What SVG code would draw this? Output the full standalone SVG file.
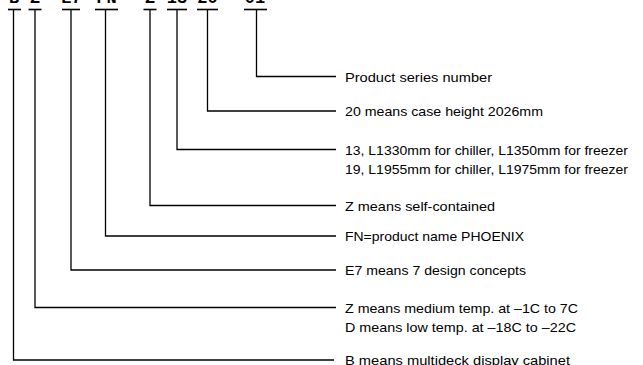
<svg xmlns="http://www.w3.org/2000/svg" width="643" height="365" viewBox="0 0 643 365">
<style>
.ln{fill:none;stroke:#000;stroke-width:1.3}
.tk{stroke:#000;stroke-width:1.6}
.lbl{font-family:"Liberation Sans",Arial,sans-serif;font-size:13.5px;fill:#000}
.code{font-family:"Liberation Mono","Courier New",monospace;font-size:17px;font-weight:bold;fill:#000;text-anchor:middle}
</style>
<rect width="643" height="365" fill="#fff"/>
<g id="code">
<text class="code" x="14" y="2.5">B</text>
<text class="code" x="35" y="2.5">Z</text>
<text class="code" x="71.5" y="2.5">E7</text>
<text class="code" x="106.5" y="2.5">FN</text>
<text class="code" x="150" y="2.5">Z</text>
<text class="code" x="177" y="2.5">13</text>
<text class="code" x="207.5" y="2.5">20</text>
<text class="code" x="255" y="2.5">01</text>
</g>
<g id="connectors">
<line class="tk" x1="8" y1="9.5" x2="21" y2="9.5"/>
<line class="tk" x1="28.5" y1="9.5" x2="41.5" y2="9.5"/>
<line class="tk" x1="62" y1="9.5" x2="80" y2="9.5"/>
<line class="tk" x1="95" y1="9.5" x2="118" y2="9.5"/>
<line class="tk" x1="143.5" y1="9.5" x2="156.5" y2="9.5"/>
<line class="tk" x1="167" y1="9.5" x2="187" y2="9.5"/>
<line class="tk" x1="197" y1="9.5" x2="218" y2="9.5"/>
<line class="tk" x1="244" y1="9.5" x2="267" y2="9.5"/>
<polyline class="ln" points="256.5,9.5 256.5,76.5 336,76.5"/>
<polyline class="ln" points="207.5,9.5 207.5,111 336,111"/>
<polyline class="ln" points="177,9.5 177,149.5 336,149.5"/>
<polyline class="ln" points="150,9.5 150,205.5 336,205.5"/>
<polyline class="ln" points="105.5,9.5 105.5,236 336,236"/>
<polyline class="ln" points="71,9.5 71,270 336,270"/>
<polyline class="ln" points="35,9.5 35,307.5 336,307.5"/>
<polyline class="ln" points="13.5,9.5 13.5,360 334,360"/>
</g>
<g id="n-series"><text class="lbl" x="345" y="82" textLength="147" lengthAdjust="spacingAndGlyphs">Product series number</text></g>
<g id="n-height"><text class="lbl" x="345" y="116" textLength="198" lengthAdjust="spacingAndGlyphs">20 means case height 2026mm</text></g>
<g id="n-length"><text class="lbl" x="345" y="154.5" textLength="283" lengthAdjust="spacingAndGlyphs">13, L1330mm for chiller, L1350mm for freezer</text><text class="lbl" x="345" y="174" textLength="283" lengthAdjust="spacingAndGlyphs">19, L1955mm for chiller, L1975mm for freezer</text></g>
<g id="n-self"><text class="lbl" x="345" y="210.5" textLength="150" lengthAdjust="spacingAndGlyphs">Z means self-contained</text></g>
<g id="n-name"><text class="lbl" x="345" y="241" textLength="179" lengthAdjust="spacingAndGlyphs">FN=product name PHOENIX</text></g>
<g id="n-design"><text class="lbl" x="345" y="275" textLength="181" lengthAdjust="spacingAndGlyphs">E7 means 7 design concepts</text></g>
<g id="n-temp"><text class="lbl" x="345" y="312.5" textLength="233" lengthAdjust="spacingAndGlyphs">Z means medium temp. at –1C to 7C</text><text class="lbl" x="345" y="332" textLength="231" lengthAdjust="spacingAndGlyphs">D means low temp. at –18C to –22C</text></g>
<g id="n-cabinet"><text class="lbl" x="345" y="365" textLength="225" lengthAdjust="spacingAndGlyphs">B means multideck display cabinet</text></g>
</svg>
